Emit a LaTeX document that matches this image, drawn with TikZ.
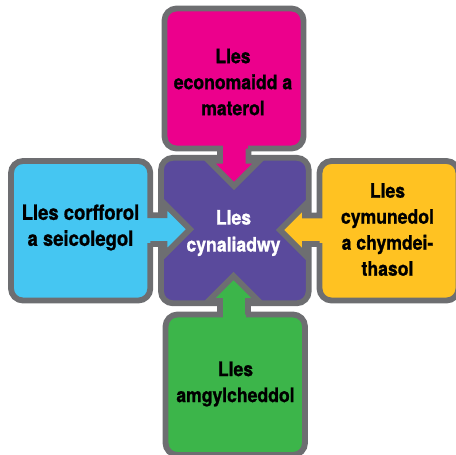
\documentclass[tikz,border=0pt]{standalone}
\usepackage{fontspec}
\setmainfont{TeX Gyre Heros}[FakeStretch=0.88,BoldFeatures={FakeStretch=0.88,FakeBold=0.9}]
\definecolor{rim}{HTML}{6D6E71}
\definecolor{hubfill}{HTML}{5A4A9C}
\definecolor{pinkfill}{HTML}{EC008C}
\definecolor{skyfill}{HTML}{45C6F2}
\definecolor{amberfill}{HTML}{FFC222}
\definecolor{leaffill}{HTML}{3CB54A}
\tikzset{
  panel/.style={draw=rim,line width=5.8pt,line join=miter,miter limit=10},
  lbl/.style={align=center,text=black,inner sep=0pt,font=\bfseries\fontsize{20}{26}\selectfont},
  hublbl/.style={lbl,text=white,font=\bfseries\fontsize{20}{27}\selectfont}
}
\begin{document}
\begin{tikzpicture}[x=1pt,y=-1pt]
\useasboundingbox (0,0) rectangle (456,455);
\clip (0,0) rectangle (456,455);
% hub
\draw[panel,fill=hubfill,rounded corners=12pt] (161,157.8) rectangle (308.7,303.3);
% top
\draw[panel,fill=pinkfill]
  [sharp corners] (220,148.5) -- (210,148.5)
  [rounded corners=12pt] -- (164.5,148.5) -- (164.5,8.5) -- (303.5,8.5) -- (303.5,148.5) -- (260,148.5)
  [sharp corners] -- (248.5,148.5) -- (248.5,160.8) -- (259.2,160.8) -- (234,186) -- (208.8,160.8) -- (220,160.8) -- cycle;
% left
\draw[panel,fill=skyfill]
  [sharp corners] (150.3,215.3) -- (150.3,205)
  [rounded corners=12pt] -- (150.3,161) -- (11,161) -- (11,300.5) -- (150.3,300.5) -- (150.3,255)
  [sharp corners] -- (150.3,244) -- (164.5,244) -- (164.5,254.8) -- (190,229.3) -- (164.5,203.8) -- (164.5,215.3) -- cycle;
% right
\draw[panel,fill=amberfill]
  [sharp corners] (319.5,215.5) -- (319.5,205)
  [rounded corners=12pt] -- (319.5,161) -- (458.5,161) -- (458.5,300.5) -- (319.5,300.5) -- (319.5,255)
  [sharp corners] -- (319.5,244) -- (305,244) -- (305,255) -- (280,230) -- (305,205) -- (305,215.5) -- cycle;
% bottom
\draw[panel,fill=leaffill]
  [sharp corners] (220,314.5) -- (210,314.5)
  [rounded corners=12pt] -- (165.5,314.5) -- (165.5,455) -- (305,455) -- (305,314.5) -- (258,314.5)
  [sharp corners] -- (248,314.5) -- (248,301) -- (258.5,301) -- (233.5,276) -- (208.5,301) -- (220,301) -- cycle;
% labels
\node[lbl] (econ) at (233,82) {Lles\\economaidd a\\materol};
\node[lbl,font=\bfseries\fontsize{21}{26}\selectfont] (body) at (80.5,227.5) {Lles corfforol\\a seicolegol};
\node[lbl] (social) at (387.5,229.5) {Lles\\cymunedol\\a chymdei-\\thasol};
\node[lbl] (env) at (235.5,384) {Lles\\amgylcheddol};
\node[hublbl] (hub) at (233.5,233) {Lles\\cynaliadwy};
\end{tikzpicture}
\end{document}
